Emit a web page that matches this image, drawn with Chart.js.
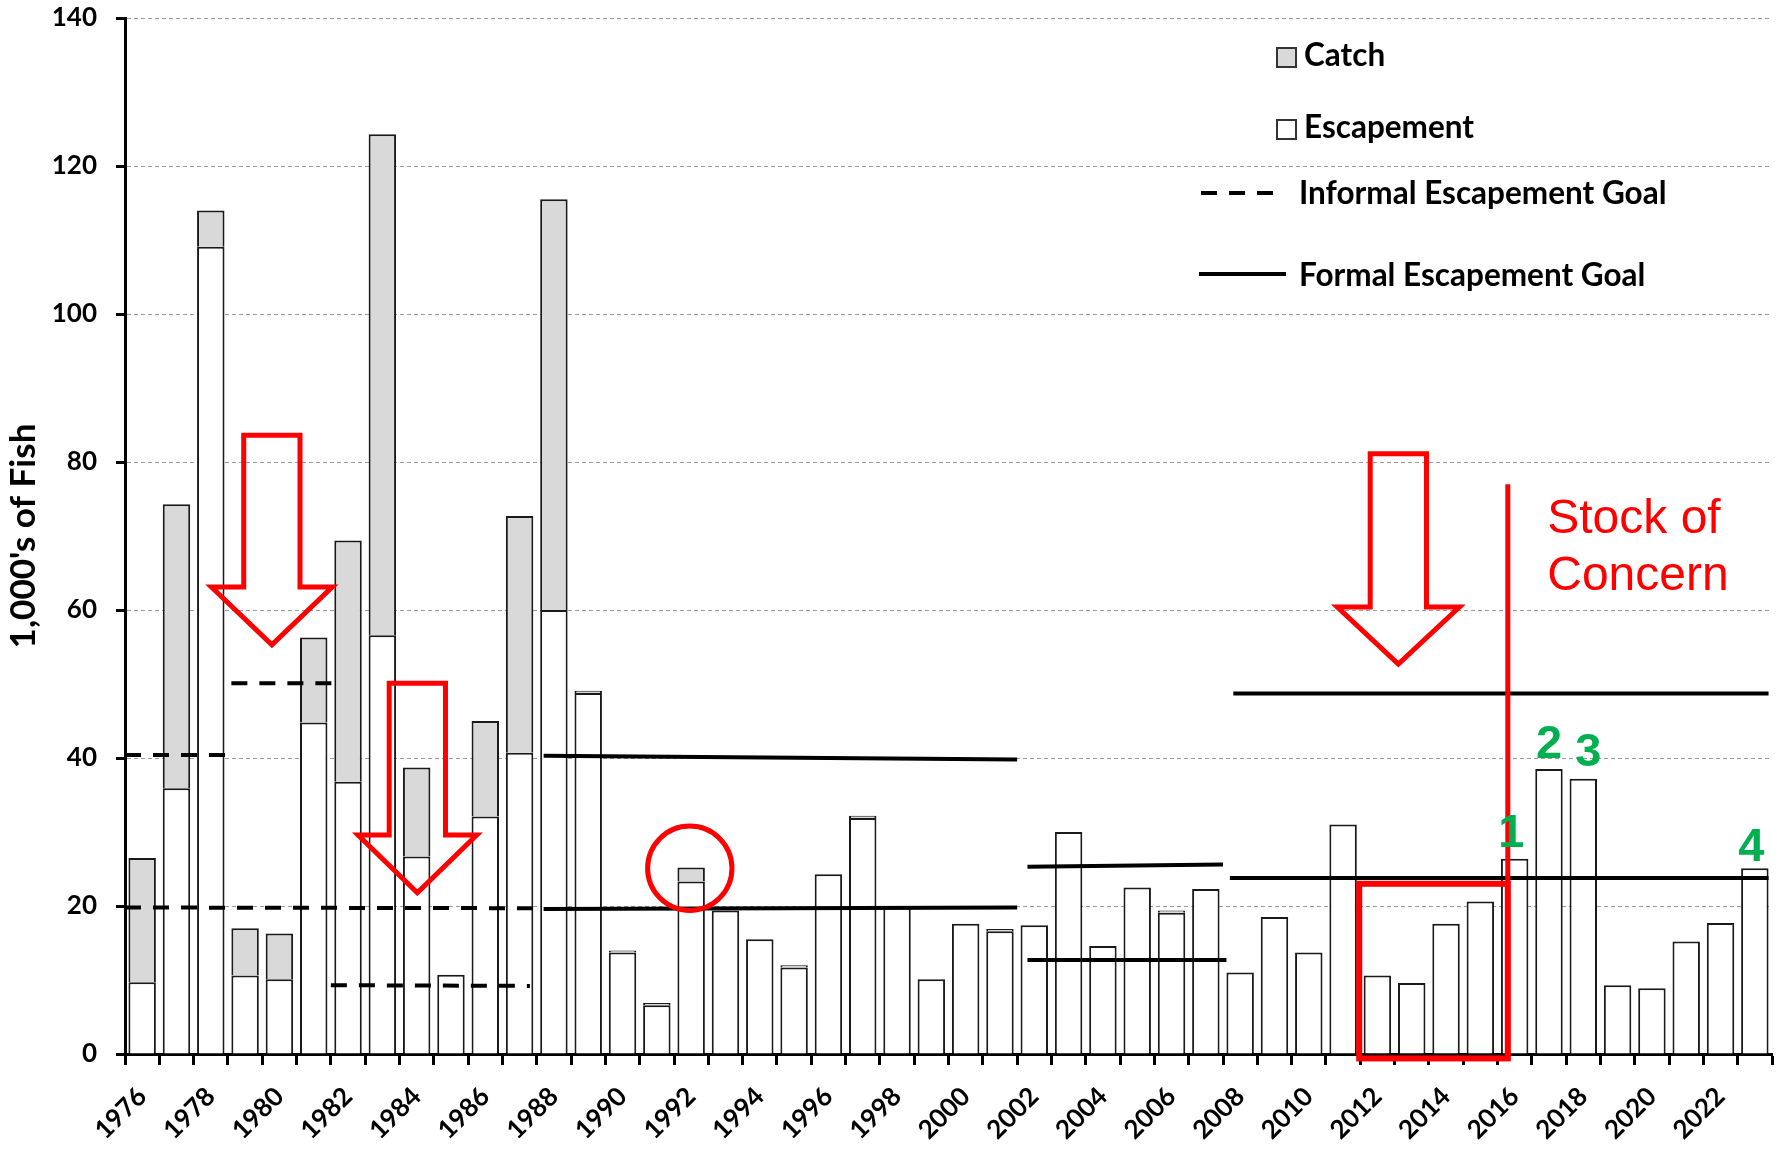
<!DOCTYPE html>
<html><head><meta charset="utf-8">
<script src="https://cdn.jsdelivr.net/npm/chart.js@4.4.1/dist/chart.umd.min.js"></script>
<style>html,body{margin:0;padding:0;background:#fff}#wrap{width:1785px;height:1150px}</style>
</head><body><div id="wrap"><canvas id="c" width="1785" height="1150"></canvas></div>
<script>
// ---------- DATA ----------
const years = [1976,1977,1978,1979,1980,1981,1982,1983,1984,1985,1986,1987,1988,1989,1990,1991,1992,1993,1994,1995,1996,1997,1998,1999,2000,2001,2002,2003,2004,2005,2006,2007,2008,2009,2010,2011,2012,2013,2014,2015,2016,2017,2018,2019,2020,2021,2022,2023];
const escapement = [9.7,35.9,109.1,10.6,10.1,44.8,36.8,56.6,26.7,10.7,32.1,40.7,60.0,48.8,13.7,6.6,23.3,19.4,15.5,11.7,24.3,31.9,19.8,10.1,17.6,16.6,17.4,30.0,14.6,22.5,19.1,22.3,11.0,18.5,13.7,31.0,10.6,9.6,17.6,20.6,26.4,38.5,37.2,9.3,8.9,15.2,17.7,25.1];
const catchValues = [16.8,38.4,4.9,6.4,6.2,11.5,32.6,67.7,12.0,0,12.9,32.0,55.5,0.3,0.3,0.3,1.9,0,0,0.3,0,0.3,0,0,0,0.3,0,0,0,0,0.3,0,0,0,0,0,0,0,0,0,0,0,0,0,0,0,0,0];
// goal segments: [startYear, endYear, startValue, endValue]
const informalGoal = [[1975.5,1978.6,40.4,40.4],[1975.5,1987.4,19.8,19.7],[1978.6,1981.6,50.1,50.1],[1981.5,1987.3,9.3,9.2]];
const formalGoal = [[1987.7,2001.5,40.3,39.8],[1987.7,2001.5,19.6,19.8],[2001.8,2007.5,25.3,25.6],[2001.8,2007.6,12.7,12.7],[2007.8,2023.4,48.7,48.7],[2007.7,2023.4,23.8,23.8]];
const yTickStep = 20, yMax = 140;
const labels = years.map(String);

// ---------- ANNOTATIONS (data units) ----------
const arrows = [
  {x:1979.78, top:83.6, base:63.1, tip:55.3, shaft:0.82, head:1.76},
  {x:1984.02, top:50.1, base:29.6, tip:21.8, shaft:0.82, head:1.73},
  {x:2012.61, top:81.1, base:60.4, tip:52.7, shaft:0.82, head:1.78}
];
const circleNote = {x:1991.96, y:25.1, r:5.7};
const boxNote = {x0:2011.47, x1:2015.8, y0:-0.6, y1:23.0};
const lineNote = {x:2015.8, y0:-0.6, y1:77.0};
const textNote = {x:2016.95, lines:['Stock of','Concern'], y:[70.4,62.7]};
const numberNotes = [{t:'1',x:2015.9,y:28.0},{t:'2',x:2017.0,y:40.0},{t:'3',x:2018.15,y:38.9},{t:'4',x:2022.9,y:26.1}];

const datasets = [
  {type:'bar', label:'Escapement', data:escapement, backgroundColor:'#FFFFFF', borderColor:'#1a1a1a', borderWidth:2, grouped:false, xAxisID:'x', barPercentage:0.8, categoryPercentage:1.0, order:2},
  {type:'bar', label:'Catch', data:catchValues, backgroundColor:'#D9D9D9', borderColor:'#1a1a1a', borderWidth:2, grouped:false, xAxisID:'x', barPercentage:0.8, categoryPercentage:1.0, order:2}
];
informalGoal.forEach((g,i)=>datasets.push({type:'line', label:'Informal '+i, xAxisID:'x2', yAxisID:'y2', data:[{x:g[0],y:g[2]},{x:g[1],y:g[3]}], borderColor:'#000', borderWidth:4, borderDash:[16,12], pointRadius:0, fill:false, order:1}));
formalGoal.forEach((g,i)=>datasets.push({type:'line', label:'Formal '+i, xAxisID:'x2', yAxisID:'y2', data:[{x:g[0],y:g[2]},{x:g[1],y:g[3]}], borderColor:'#000', borderWidth:4, pointRadius:0, fill:false, order:1}));

const overlay = {
  id:'overlay',
  afterDatasetsDraw(chart){
    const ctx = chart.ctx, xs = chart.scales.x2, ys = chart.scales.y;
    const X = v => xs.getPixelForValue(v), Y = v => ys.getPixelForValue(v);
    ctx.save();
    ctx.strokeStyle = '#FF0000';
    ctx.lineJoin = 'miter';
    ctx.lineWidth = 5;
    arrows.forEach(a=>{
      ctx.beginPath();
      ctx.moveTo(X(a.x-a.shaft),Y(a.top));
      ctx.lineTo(X(a.x+a.shaft),Y(a.top));
      ctx.lineTo(X(a.x+a.shaft),Y(a.base));
      ctx.lineTo(X(a.x+a.head),Y(a.base));
      ctx.lineTo(X(a.x),Y(a.tip));
      ctx.lineTo(X(a.x-a.head),Y(a.base));
      ctx.lineTo(X(a.x-a.shaft),Y(a.base));
      ctx.closePath();
      ctx.stroke();
    });
    const rpx = Math.abs(Y(circleNote.y+circleNote.r)-Y(circleNote.y));
    ctx.beginPath(); ctx.arc(X(circleNote.x),Y(circleNote.y),rpx,0,Math.PI*2); ctx.stroke();
    ctx.lineWidth = 6;
    ctx.strokeRect(X(boxNote.x0),Y(boxNote.y1),X(boxNote.x1)-X(boxNote.x0),Y(boxNote.y0)-Y(boxNote.y1));
    ctx.lineWidth = 5;
    ctx.beginPath(); ctx.moveTo(X(lineNote.x),Y(lineNote.y1)); ctx.lineTo(X(lineNote.x),Y(lineNote.y0)); ctx.stroke();
    ctx.fillStyle = '#FF0000';
    ctx.font = '48px "Liberation Sans", Arial, sans-serif';
    ctx.textAlign = 'left'; ctx.textBaseline = 'alphabetic';
    textNote.lines.forEach((t,i)=>ctx.fillText(t,X(textNote.x),Y(textNote.y[i])));
    ctx.fillStyle = '#00B050';
    ctx.font = 'bold 47px "Liberation Sans", Arial, sans-serif';
    ctx.textAlign = 'center';
    numberNotes.forEach(n=>ctx.fillText(n.t,X(n.x),Y(n.y)));
    ctx.restore();
  },
  afterDraw(chart){
    const ctx = chart.ctx;
    ctx.save();
    ctx.font = 'bold 31.5px Lato, sans-serif';
    ctx.fillStyle = '#000'; ctx.textBaseline = 'alphabetic'; ctx.textAlign='left';
    ctx.fillStyle = '#D9D9D9'; ctx.fillRect(1277,48,19,19);
    ctx.strokeStyle = '#333'; ctx.lineWidth = 2; ctx.strokeRect(1277,48,19,19);
    ctx.fillStyle = '#000'; ctx.fillText('Catch',1304,66);
    ctx.fillStyle = '#FFF'; ctx.fillRect(1277,120,19,19); ctx.strokeRect(1277,120,19,19);
    ctx.fillStyle = '#000'; ctx.fillText('Escapement',1304,138);
    ctx.strokeStyle = '#000'; ctx.lineWidth = 4;
    ctx.setLineDash([16,12]);
    ctx.beginPath(); ctx.moveTo(1201,193); ctx.lineTo(1277,193); ctx.stroke();
    ctx.setLineDash([]);
    ctx.fillText('Informal Escapement Goal',1299,204);
    ctx.beginPath(); ctx.moveTo(1199,274); ctx.lineTo(1286,274); ctx.stroke();
    ctx.fillText('Formal Escapement Goal',1299,286);
    ctx.restore();
  }
};

Chart.defaults.font.family = 'Lato, sans-serif';
new Chart(document.getElementById('c'), {
  data:{labels, datasets},
  options:{
    responsive:false, animation:false, devicePixelRatio:1,
    layout:{padding:{left:0,top:18,right:13,bottom:0}},
    plugins:{legend:{display:false}, tooltip:{enabled:false}},
    scales:{
      x:{type:'category', stacked:true, offset:true,
        grid:{display:true, drawOnChartArea:false, drawTicks:true, offset:true, tickLength:11, tickColor:'#000', tickWidth:3},
        border:{display:true, color:'#000', width:3},
        ticks:{autoSkip:false, maxRotation:45, minRotation:45, padding:16, labelOffset:0, color:'#000', font:{size:26, weight:'bold'},
          callback:function(v,i){ return i%2===0 ? this.getLabelForValue(v) : ''; }},
        afterFit:s=>{s.height=96; s.paddingLeft=0; s.paddingRight=0;}
      },
      x2:{type:'linear', display:false, min:1975.5, max:2023.5, offset:false},
      y:{stacked:true, min:0, max:yMax,
        grid:{color:'#9a9a9a', lineWidth:1, drawTicks:true, tickLength:9, tickColor:'#000', tickWidth:3},
        border:{display:true, color:'#000', width:3, dash:[4,3]},
        ticks:{stepSize:yTickStep, padding:19, color:'#000', font:{size:26, weight:'bold'}},
        title:{display:true, text:"1,000's of Fish", color:'#000', font:{size:35, weight:'bold'}, padding:{top:3,bottom:0}},
        afterFit:s=>{s.width=125; s.paddingTop=0; s.paddingBottom=0;}
      },
      y2:{display:false, min:0, max:yMax, stacked:false}
    }
  },
  plugins:[overlay]
});
</script></body></html>
